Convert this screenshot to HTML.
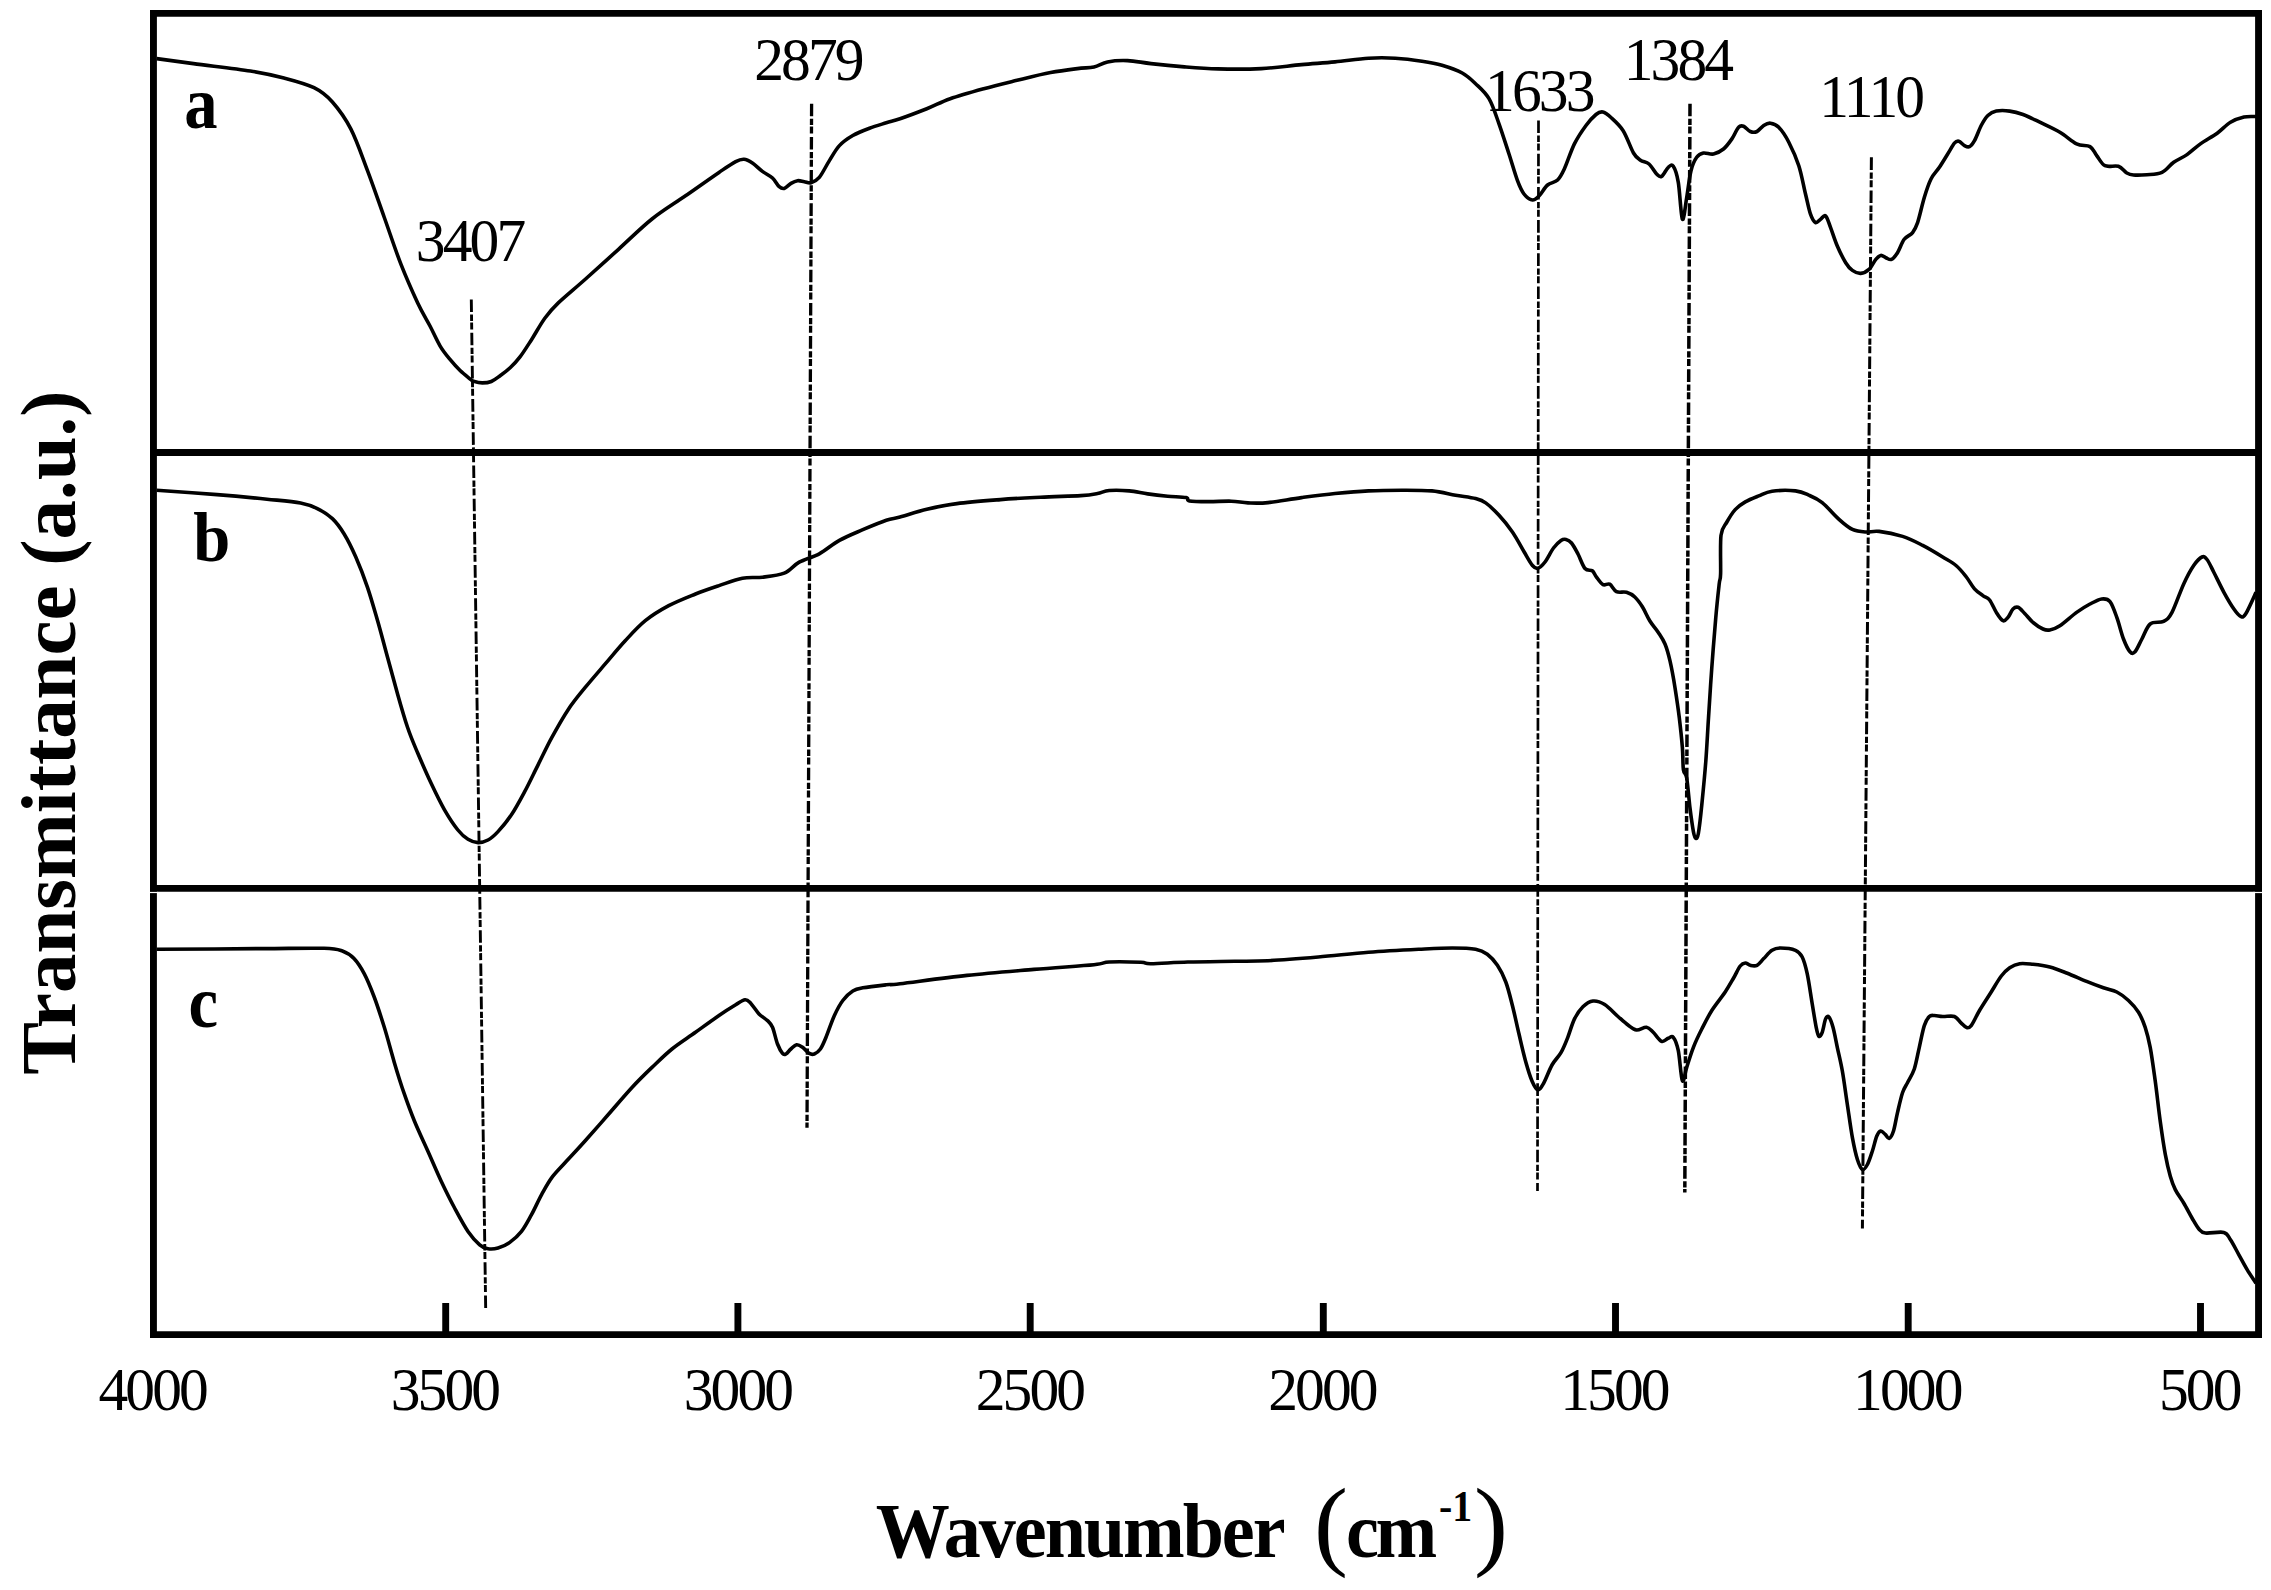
<!DOCTYPE html>
<html lang="en"><head><meta charset="utf-8"><title>FTIR spectra</title>
<style>html,body{margin:0;padding:0;background:#fff;}body{width:2271px;height:1590px;overflow:hidden;}svg{display:block;}text{font-family:"Liberation Serif",serif;fill:#000;}</style></head><body>
<svg width="2271" height="1590" viewBox="0 0 2271 1590">
<rect width="2271" height="1590" fill="#fff"/>
<g stroke="#000" fill="none" stroke-linecap="butt">
<line x1="153.45" y1="10.03" x2="153.45" y2="1338.0" stroke-width="6.9"/>
<line x1="2258.55" y1="10.03" x2="2258.55" y2="1338.0" stroke-width="6.9"/>
<line x1="150.0" y1="13.43" x2="2262.0" y2="13.43" stroke-width="6.8"/>
<line x1="150.0" y1="452.5" x2="2262.0" y2="452.5" stroke-width="6.9"/>
<line x1="150.0" y1="888.45" x2="2262.0" y2="888.45" stroke-width="6.7"/>
<line x1="150.0" y1="1334.6" x2="2262.0" y2="1334.6" stroke-width="6.8"/>
<line x1="445.7" y1="1303" x2="445.7" y2="1334.6" stroke-width="6.9"/>
<line x1="737.9" y1="1303" x2="737.9" y2="1334.6" stroke-width="6.9"/>
<line x1="1030.2" y1="1303" x2="1030.2" y2="1334.6" stroke-width="6.9"/>
<line x1="1323.3" y1="1303" x2="1323.3" y2="1334.6" stroke-width="6.9"/>
<line x1="1615.5" y1="1303" x2="1615.5" y2="1334.6" stroke-width="6.9"/>
<line x1="1908.2" y1="1303" x2="1908.2" y2="1334.6" stroke-width="6.9"/>
<line x1="2200.5" y1="1303" x2="2200.5" y2="1334.6" stroke-width="6.9"/>
</g>
<rect x="148" y="891.9" width="10" height="1.2" fill="#fff"/><rect x="2253" y="891.9" width="10" height="1.2" fill="#fff"/>
<g stroke="#000" fill="none" stroke-width="3.6" stroke-linejoin="round" stroke-linecap="butt">
<path d="M156.7 58.6C162.8 59.4 177.9 61.5 193.5 63.6C209.1 65.7 235.3 68.6 250.4 71.0C265.5 73.4 273.3 75.2 283.9 78.0C294.5 80.8 305.9 83.7 314.0 87.7C322.1 91.7 326.3 95.1 332.4 102.0C338.5 108.9 344.9 117.5 350.8 128.9C356.7 140.3 361.9 155.9 367.5 170.7C373.1 185.5 378.7 201.9 384.3 217.5C389.9 233.1 395.4 250.1 401.0 264.4C406.6 278.6 412.9 292.7 417.7 303.0C422.5 313.3 426.3 318.9 430.0 326.0C433.7 333.1 436.7 340.2 440.0 345.8C443.3 351.4 446.6 355.3 450.0 359.4C453.4 363.5 456.7 367.2 460.1 370.5C463.5 373.8 468.0 377.2 470.2 379.0C472.4 380.8 471.5 380.7 473.5 381.3C475.5 381.9 479.3 382.9 482.3 382.9C485.3 382.9 488.3 382.7 491.3 381.5C494.3 380.3 497.2 377.8 500.4 375.5C503.6 373.2 507.1 370.6 510.4 367.5C513.7 364.4 516.5 361.5 520.0 356.9C523.5 352.3 527.3 346.2 531.5 339.7C535.7 333.2 540.5 324.1 545.0 318.0C549.5 311.9 551.6 309.3 558.3 302.9C565.0 296.5 575.0 288.4 585.0 279.5C595.0 270.6 607.3 259.4 618.5 249.3C629.7 239.2 640.8 227.9 652.0 219.0C663.2 210.1 674.3 203.6 685.5 195.8C696.7 188.0 710.6 178.1 719.0 172.4C727.4 166.7 731.5 163.8 735.7 161.6C739.9 159.4 741.2 159.1 744.0 159.3C746.8 159.5 749.3 161.0 752.4 163.0C755.5 165.0 759.0 168.9 762.4 171.4C765.8 173.9 769.7 175.4 772.5 178.0C775.3 180.6 777.2 185.0 779.2 186.7C781.2 188.4 782.2 188.9 784.2 188.4C786.2 187.9 788.8 184.7 791.0 183.4C793.2 182.1 795.4 181.0 797.6 180.7C799.8 180.4 802.1 181.4 804.3 181.7C806.5 182.0 808.5 183.4 811.0 182.7C813.5 182.0 816.2 181.1 819.3 177.4C822.4 173.7 826.0 165.9 829.4 160.6C832.8 155.3 835.5 149.8 839.4 145.6C843.3 141.4 847.8 138.4 852.8 135.5C857.8 132.6 863.9 130.3 869.5 128.2C875.1 126.1 881.2 124.4 886.3 122.8C891.4 121.2 893.2 121.1 900.0 118.8C906.8 116.5 918.4 112.1 926.8 108.8C935.2 105.5 940.7 102.0 950.2 98.7C959.7 95.4 972.6 91.8 983.7 88.7C994.8 85.6 1005.9 83.0 1017.0 80.3C1028.2 77.6 1040.5 74.5 1050.6 72.6C1060.7 70.6 1070.2 69.5 1077.4 68.6C1084.6 67.6 1089.0 68.0 1094.0 66.9C1099.0 65.8 1101.9 63.0 1107.5 61.9C1113.1 60.8 1120.3 60.3 1127.6 60.6C1134.8 60.9 1141.5 62.5 1151.0 63.6C1160.5 64.7 1173.3 66.0 1184.5 66.9C1195.7 67.8 1205.2 68.6 1218.0 68.9C1230.8 69.2 1247.5 69.3 1261.4 68.6C1275.3 67.9 1289.3 65.7 1301.6 64.6C1313.9 63.5 1323.8 63.0 1335.0 61.9C1346.2 60.8 1358.5 58.8 1368.5 58.2C1378.5 57.6 1386.4 57.7 1395.3 58.2C1404.2 58.7 1414.2 60.0 1422.0 61.2C1429.8 62.4 1435.3 63.3 1442.0 65.3C1448.7 67.3 1456.6 69.9 1462.2 73.0C1467.8 76.1 1471.1 79.4 1475.6 83.7C1480.1 88.0 1485.1 92.0 1489.0 98.7C1492.9 105.4 1495.7 114.6 1499.0 123.8C1502.3 133.0 1505.9 144.5 1509.0 154.0C1512.1 163.5 1515.0 174.0 1517.5 180.7C1520.0 187.4 1521.5 190.8 1524.0 194.0C1526.5 197.2 1530.0 199.7 1532.5 200.0C1535.0 200.3 1536.7 198.3 1539.2 195.8C1541.7 193.3 1544.5 187.6 1547.6 185.0C1550.7 182.4 1554.8 182.7 1557.6 180.0C1560.4 177.3 1561.5 175.0 1564.3 169.0C1567.1 163.0 1570.8 151.2 1574.4 143.9C1578.0 136.7 1582.4 130.4 1586.0 125.5C1589.6 120.6 1593.2 116.8 1596.0 114.5C1598.8 112.2 1600.3 111.5 1602.8 112.0C1605.3 112.5 1607.6 114.4 1611.0 117.5C1614.4 120.6 1619.2 124.6 1623.0 130.5C1626.8 136.4 1630.6 148.0 1633.5 153.0C1636.4 158.0 1637.9 158.5 1640.5 160.3C1643.1 162.1 1646.3 161.7 1649.0 164.0C1651.7 166.3 1654.5 171.9 1656.6 174.0C1658.7 176.1 1659.6 177.5 1661.6 176.4C1663.5 175.3 1666.3 169.0 1668.3 167.3C1670.2 165.6 1671.6 163.8 1673.3 166.3C1675.0 168.8 1676.8 173.6 1678.3 182.4C1679.8 191.2 1681.0 216.7 1682.4 219.2C1683.8 221.7 1685.3 205.6 1686.7 197.5C1688.1 189.4 1689.3 177.4 1691.0 170.7C1692.7 164.0 1694.6 160.2 1696.7 157.3C1698.8 154.4 1700.6 153.6 1703.4 153.0C1706.2 152.4 1710.2 154.7 1713.5 154.0C1716.8 153.3 1720.4 151.5 1723.5 149.0C1726.6 146.5 1729.4 142.5 1731.9 138.9C1734.4 135.3 1736.6 129.3 1738.6 127.2C1740.5 125.1 1741.6 125.5 1743.6 126.2C1745.5 126.9 1748.1 130.6 1750.3 131.5C1752.5 132.4 1754.8 132.5 1757.0 131.5C1759.2 130.5 1761.5 126.9 1763.7 125.5C1765.9 124.1 1767.9 122.9 1770.4 123.2C1772.9 123.5 1775.6 124.0 1778.7 127.2C1781.8 130.4 1785.5 135.8 1788.8 142.2C1792.1 148.6 1796.0 157.1 1798.8 165.7C1801.6 174.3 1803.5 185.9 1805.5 194.0C1807.5 202.1 1808.8 209.4 1810.5 214.2C1812.2 219.0 1813.8 221.8 1815.5 222.6C1817.2 223.4 1818.9 220.3 1820.6 219.2C1822.3 218.1 1823.9 214.5 1825.6 215.9C1827.3 217.3 1828.6 222.6 1830.6 227.6C1832.5 232.6 1834.8 240.2 1837.3 246.0C1839.8 251.8 1843.2 258.6 1845.7 262.7C1848.2 266.8 1849.9 268.6 1852.4 270.4C1854.9 272.2 1857.9 273.6 1860.7 273.4C1863.5 273.2 1866.5 271.7 1869.0 269.4C1871.5 267.1 1873.8 261.7 1875.8 259.4C1877.8 257.1 1879.1 255.7 1880.8 255.4C1882.5 255.1 1884.0 257.0 1885.8 257.7C1887.6 258.4 1889.5 260.2 1891.5 259.4C1893.5 258.6 1895.4 256.0 1897.5 252.7C1899.6 249.3 1901.7 242.7 1904.2 239.3C1906.7 236.0 1910.4 235.4 1912.6 232.6C1914.8 229.8 1915.6 228.4 1917.6 222.6C1919.5 216.8 1922.1 204.8 1924.3 197.5C1926.5 190.2 1928.5 184.0 1931.0 179.0C1933.5 174.0 1936.6 171.5 1939.4 167.3C1942.2 163.1 1945.2 158.0 1947.7 154.0C1950.2 150.0 1952.6 145.3 1954.4 143.2C1956.2 141.1 1957.1 140.8 1958.8 141.2C1960.5 141.6 1962.7 144.7 1964.5 145.6C1966.3 146.5 1967.8 147.4 1969.5 146.6C1971.2 145.8 1972.5 144.1 1974.5 140.6C1976.5 137.1 1979.0 129.7 1981.2 125.5C1983.4 121.3 1985.4 117.9 1987.9 115.5C1990.4 113.1 1992.7 111.8 1996.3 111.1C1999.9 110.4 2005.2 110.5 2009.7 111.1C2014.2 111.7 2018.0 112.7 2023.0 114.5C2028.0 116.3 2033.6 119.2 2039.8 122.2C2046.0 125.2 2053.8 128.6 2059.9 132.2C2066.0 135.8 2071.6 141.5 2076.6 143.9C2081.6 146.3 2086.7 144.7 2090.0 146.6C2093.3 148.5 2094.2 152.4 2096.7 155.6C2099.2 158.8 2101.4 163.9 2105.0 165.7C2108.6 167.5 2114.8 165.1 2118.4 166.3C2122.0 167.5 2124.3 171.6 2126.8 173.0C2129.3 174.4 2130.2 174.7 2133.5 175.0C2136.8 175.3 2142.2 175.1 2146.9 174.7C2151.7 174.3 2157.5 174.5 2162.0 172.4C2166.5 170.3 2169.5 165.3 2173.7 162.3C2177.9 159.3 2182.6 157.7 2187.0 154.6C2191.4 151.5 2195.4 147.5 2200.4 143.9C2205.4 140.3 2212.2 136.8 2217.2 133.2C2222.2 129.6 2226.0 124.9 2230.5 122.2C2235.0 119.5 2239.8 118.0 2244.0 117.0C2248.2 116.0 2254.0 116.6 2256.0 116.5"/>
<path d="M156.7 490.2C166.8 490.9 198.6 493.1 217.0 494.6C235.4 496.1 253.1 497.8 267.0 499.2C280.9 500.6 292.2 501.4 300.6 503.0C309.0 504.6 312.0 506.0 317.3 508.6C322.6 511.2 327.9 514.4 332.4 518.6C336.8 522.8 340.1 527.3 344.0 533.7C347.9 540.1 351.9 548.1 355.8 557.0C359.7 565.9 363.9 576.7 367.5 587.3C371.1 597.9 374.2 609.0 377.6 620.7C381.0 632.4 384.2 645.2 387.6 657.5C391.0 669.8 394.4 682.7 397.7 694.4C401.0 706.1 404.4 718.0 407.7 727.8C411.0 737.6 413.8 743.8 417.7 753.0C421.6 762.2 426.5 773.5 431.0 783.0C435.5 792.5 440.0 802.0 444.5 809.8C449.0 817.6 454.0 825.1 457.9 830.0C461.8 834.9 464.6 837.2 468.0 839.3C471.4 841.4 474.7 842.5 478.0 842.6C481.3 842.7 484.7 841.8 488.0 840.0C491.3 838.2 494.1 835.8 498.0 831.6C501.9 827.4 506.9 821.5 511.4 814.8C515.9 808.1 520.3 799.8 524.8 791.4C529.3 783.0 533.7 773.5 538.2 764.6C542.7 755.7 546.6 747.1 551.6 737.9C556.6 728.7 562.7 717.8 568.3 709.4C573.9 701.0 578.9 695.2 585.0 687.7C591.1 680.2 598.3 672.0 605.0 664.2C611.7 656.4 618.5 648.0 625.2 640.8C631.9 633.5 638.0 626.6 645.3 620.7C652.5 614.9 660.3 610.2 668.7 605.7C677.1 601.2 687.1 597.4 695.5 594.0C703.9 590.6 711.2 588.2 719.0 585.6C726.8 583.0 735.2 579.6 742.4 578.2C749.6 576.8 755.4 578.0 762.4 577.2C769.4 576.4 778.1 575.7 784.2 573.2C790.3 570.7 793.4 565.4 799.2 562.2C805.1 559.0 812.6 557.4 819.3 553.8C826.0 550.2 832.1 544.4 839.4 540.4C846.6 536.4 855.0 533.1 862.8 529.7C870.6 526.4 880.1 522.4 886.3 520.3C892.5 518.2 893.2 518.8 900.0 517.0C906.8 515.2 917.3 511.5 926.8 509.3C936.3 507.1 944.6 505.2 956.9 503.6C969.2 502.0 986.5 500.7 1000.4 499.6C1014.3 498.5 1027.2 497.9 1040.6 497.2C1054.0 496.5 1071.2 496.2 1080.7 495.6C1090.2 495.0 1092.8 494.4 1097.5 493.5C1102.2 492.6 1103.9 490.9 1109.2 490.5C1114.5 490.1 1122.8 490.3 1129.2 490.9C1135.6 491.5 1141.3 493.0 1147.7 493.9C1154.1 494.8 1161.3 495.6 1167.7 496.2C1174.1 496.8 1182.4 496.8 1186.0 497.6C1189.6 498.4 1185.8 500.2 1189.5 500.9C1193.2 501.6 1200.9 501.6 1207.9 501.6C1214.9 501.7 1224.6 501.0 1231.3 501.2C1238.0 501.4 1241.9 502.7 1248.0 502.9C1254.1 503.1 1259.1 503.5 1268.0 502.6C1276.9 501.7 1290.4 499.1 1301.6 497.6C1312.8 496.1 1323.8 494.6 1335.0 493.5C1346.2 492.4 1357.3 491.4 1368.5 490.9C1379.7 490.3 1391.4 490.2 1402.0 490.2C1412.6 490.2 1423.1 490.1 1432.0 490.9C1440.9 491.7 1448.3 493.9 1455.6 495.2C1462.9 496.5 1470.6 497.3 1475.6 498.6C1480.6 499.9 1481.8 500.1 1485.7 502.9C1489.6 505.7 1494.5 510.4 1499.0 515.3C1503.5 520.1 1508.2 525.9 1512.4 532.0C1516.6 538.1 1520.9 546.4 1524.2 552.0C1527.5 557.6 1530.2 562.8 1532.5 565.5C1534.8 568.2 1535.9 568.8 1538.0 568.2C1540.1 567.6 1542.4 565.4 1545.0 562.0C1547.6 558.6 1550.8 551.6 1553.5 548.0C1556.2 544.4 1558.9 541.8 1561.0 540.4C1563.1 539.0 1564.2 539.0 1566.0 539.4C1567.8 539.8 1569.5 540.6 1571.5 543.0C1573.5 545.4 1575.8 549.8 1578.0 554.0C1580.2 558.2 1582.6 565.7 1585.0 568.5C1587.4 571.3 1590.4 569.4 1592.3 570.8C1594.2 572.2 1594.5 574.5 1596.3 576.8C1598.1 579.1 1600.8 583.4 1603.0 584.6C1605.2 585.8 1607.5 583.0 1609.7 584.2C1611.9 585.4 1613.6 590.2 1616.4 591.6C1619.2 593.0 1623.4 591.4 1626.5 592.3C1629.6 593.2 1632.1 594.5 1634.8 597.0C1637.5 599.5 1640.0 603.0 1642.5 607.0C1645.0 611.0 1647.3 616.8 1649.9 621.0C1652.5 625.2 1655.8 628.6 1658.3 632.4C1660.8 636.2 1663.0 639.2 1665.0 644.0C1667.0 648.8 1668.3 653.6 1670.0 660.9C1671.7 668.2 1673.5 678.2 1675.0 687.7C1676.5 697.2 1678.1 707.8 1679.3 717.8C1680.5 727.8 1681.7 739.2 1682.4 747.9C1683.1 756.5 1682.7 764.7 1683.4 769.7C1684.1 774.7 1685.6 771.6 1686.7 778.0C1687.8 784.4 1688.9 799.1 1690.0 808.0C1691.1 816.9 1692.5 826.6 1693.4 831.6C1694.4 836.6 1694.9 838.0 1695.7 838.3C1696.5 838.6 1697.4 838.8 1698.4 833.2C1699.4 827.6 1700.6 816.8 1701.8 804.8C1703.0 792.8 1704.7 775.8 1705.8 761.3C1706.9 746.8 1707.5 733.4 1708.5 717.8C1709.5 702.2 1710.6 684.3 1711.8 667.6C1713.0 650.9 1714.6 631.4 1715.8 617.4C1717.0 603.4 1718.4 591.1 1719.2 583.9C1720.0 576.6 1720.3 582.0 1720.6 573.9C1720.9 565.8 1720.0 544.0 1721.0 535.4C1722.0 526.8 1724.5 526.3 1726.9 522.0C1729.3 517.7 1732.1 513.0 1735.2 509.6C1738.3 506.2 1741.4 504.2 1745.3 501.9C1749.2 499.6 1754.2 497.7 1758.7 495.9C1763.2 494.1 1765.9 492.0 1772.0 491.2C1778.1 490.4 1789.3 490.2 1795.5 490.9C1801.7 491.6 1804.5 493.2 1808.9 495.2C1813.4 497.1 1817.2 498.6 1822.2 502.6C1827.2 506.6 1834.0 514.8 1839.0 519.3C1844.0 523.8 1847.9 527.3 1852.4 529.4C1856.9 531.5 1861.3 531.7 1865.8 532.0C1870.2 532.3 1873.0 530.7 1879.1 531.4C1885.2 532.1 1895.3 534.1 1902.6 536.4C1909.9 538.7 1916.0 542.0 1922.7 545.4C1929.4 548.8 1937.2 553.6 1942.7 557.0C1948.2 560.4 1952.1 562.2 1956.0 565.5C1959.9 568.8 1962.9 572.6 1966.0 576.5C1969.1 580.4 1971.7 585.7 1974.5 588.9C1977.3 592.1 1980.4 593.8 1982.9 595.6C1985.4 597.5 1987.4 597.2 1989.6 600.0C1991.8 602.8 1994.1 608.9 1996.3 612.4C1998.5 615.9 2001.0 619.9 2003.0 620.7C2005.0 621.5 2006.3 619.4 2008.0 617.4C2009.7 615.4 2011.3 610.7 2013.0 609.0C2014.7 607.3 2016.0 606.6 2018.0 607.3C2020.0 608.0 2022.2 610.9 2024.7 613.4C2027.2 615.9 2030.0 619.8 2033.0 622.4C2036.0 625.0 2040.2 627.7 2043.0 629.0C2045.8 630.3 2047.0 630.5 2049.8 630.0C2052.6 629.5 2055.4 628.6 2059.9 625.7C2064.4 622.8 2071.6 616.0 2076.6 612.4C2081.6 608.8 2085.8 606.2 2090.0 604.0C2094.2 601.8 2098.4 599.4 2101.7 599.0C2105.0 598.6 2107.5 598.5 2110.0 601.6C2112.5 604.7 2114.6 611.2 2116.8 617.4C2119.1 623.6 2121.3 633.3 2123.5 639.0C2125.7 644.7 2128.1 649.7 2130.0 651.8C2131.9 653.9 2133.0 653.9 2135.0 651.8C2137.0 649.7 2139.4 643.6 2141.9 639.0C2144.4 634.4 2146.6 626.9 2150.2 624.0C2153.8 621.1 2160.0 623.3 2163.6 621.4C2167.2 619.5 2168.7 618.6 2172.0 612.4C2175.3 606.1 2180.1 591.7 2183.7 583.9C2187.3 576.1 2190.6 570.0 2193.7 565.5C2196.8 561.0 2199.8 558.0 2202.0 557.0C2204.2 556.0 2205.0 557.0 2207.0 559.5C2209.0 562.0 2211.0 566.7 2213.8 572.2C2216.6 577.7 2220.6 586.2 2223.9 592.3C2227.2 598.4 2231.1 605.0 2233.9 609.0C2236.7 613.0 2238.7 615.6 2240.6 616.4C2242.5 617.2 2243.0 618.0 2245.6 614.0C2248.2 610.0 2254.3 595.9 2256.0 592.3"/>
<path d="M156.7 949.3C174.5 949.2 235.9 948.8 263.8 948.6C291.7 948.4 310.9 947.9 324.0 948.3C337.1 948.7 337.4 949.3 342.4 951.0C347.4 952.7 350.4 954.8 354.0 958.6C357.6 962.4 360.8 967.3 364.2 973.7C367.6 980.1 370.8 988.1 374.2 997.0C377.6 1005.9 380.9 1016.4 384.3 1027.3C387.7 1038.2 391.0 1051.2 394.3 1062.4C397.6 1073.6 401.0 1084.4 404.4 1094.2C407.8 1104.0 410.5 1111.5 414.4 1121.0C418.3 1130.5 423.3 1141.0 427.8 1151.0C432.3 1161.0 436.7 1171.7 441.2 1181.2C445.7 1190.7 450.1 1199.6 454.6 1208.0C459.1 1216.4 463.8 1225.3 468.0 1231.4C472.2 1237.5 476.4 1241.9 479.7 1244.8C483.0 1247.7 484.9 1248.3 488.0 1248.8C491.1 1249.3 494.4 1249.1 498.0 1248.0C501.6 1246.9 505.9 1245.2 509.8 1242.4C513.7 1239.6 517.9 1236.0 521.5 1231.4C525.1 1226.8 528.1 1220.8 531.5 1214.7C534.9 1208.6 538.2 1200.7 541.6 1194.6C545.0 1188.5 547.7 1183.2 551.6 1177.9C555.5 1172.6 559.4 1169.0 565.0 1162.8C570.6 1156.6 577.8 1149.1 585.0 1141.0C592.2 1132.9 600.7 1123.2 608.5 1114.3C616.3 1105.4 624.8 1095.3 632.0 1087.5C639.2 1079.7 645.3 1073.8 652.0 1067.4C658.7 1061.0 664.8 1054.8 672.0 1049.0C679.2 1043.2 687.7 1037.9 695.5 1032.3C703.3 1026.7 712.3 1020.1 719.0 1015.5C725.7 1010.9 731.4 1007.4 735.7 1004.8C740.0 1002.2 742.5 1000.1 745.0 999.8C747.5 999.5 748.4 1000.9 750.7 1003.2C753.0 1005.6 756.2 1011.0 759.0 1013.9C761.8 1016.8 765.2 1018.4 767.5 1020.6C769.8 1022.8 770.8 1023.4 772.5 1027.3C774.2 1031.2 775.8 1039.7 777.5 1044.0C779.2 1048.3 781.1 1051.7 782.5 1053.4C783.9 1055.1 784.5 1054.7 785.9 1054.0C787.3 1053.3 789.1 1050.5 790.9 1049.0C792.7 1047.5 794.6 1045.0 796.6 1044.7C798.6 1044.4 800.5 1045.8 802.6 1047.3C804.7 1048.8 807.3 1052.3 809.3 1053.4C811.2 1054.5 812.4 1054.7 814.3 1054.0C816.1 1053.3 818.4 1051.8 820.4 1049.0C822.4 1046.2 823.7 1042.9 826.0 1037.3C828.3 1031.7 831.6 1021.6 834.4 1015.5C837.2 1009.4 839.7 1004.6 842.8 1000.5C845.9 996.4 849.4 993.1 852.8 991.0C856.1 988.9 857.3 988.8 862.9 987.8C868.5 986.8 880.1 985.5 886.3 984.8C892.5 984.1 886.5 985.3 900.0 983.7C913.5 982.1 944.7 977.8 967.0 975.4C989.3 973.0 1012.7 971.2 1033.9 969.4C1055.1 967.6 1081.5 965.9 1094.0 964.7C1106.5 963.5 1101.4 962.4 1109.2 962.0C1117.0 961.6 1134.0 962.0 1141.0 962.3C1148.0 962.6 1143.2 963.8 1151.0 963.7C1158.8 963.7 1173.8 962.4 1187.8 962.0C1201.8 961.6 1221.3 961.5 1234.7 961.3C1248.1 961.1 1254.1 961.4 1268.0 960.7C1281.9 960.0 1301.5 958.4 1318.3 957.0C1335.0 955.6 1351.8 953.6 1368.5 952.3C1385.2 951.0 1404.8 950.0 1418.7 949.3C1432.7 948.6 1442.7 948.0 1452.2 948.0C1461.7 948.0 1469.8 948.2 1475.6 949.3C1481.4 950.3 1483.7 951.6 1487.3 954.3C1490.9 957.0 1494.3 960.7 1497.4 965.3C1500.5 969.9 1503.3 975.3 1505.8 982.0C1508.3 988.7 1510.2 996.8 1512.4 1005.5C1514.6 1014.2 1516.8 1024.6 1519.0 1034.0C1521.2 1043.4 1523.6 1054.2 1525.8 1062.0C1528.0 1069.8 1530.0 1076.4 1532.0 1081.0C1534.0 1085.6 1535.8 1089.4 1537.7 1089.8C1539.6 1090.2 1541.1 1087.6 1543.5 1083.5C1545.9 1079.4 1549.1 1070.2 1552.0 1065.0C1554.9 1059.8 1558.5 1057.0 1561.1 1052.4C1563.7 1047.8 1565.6 1042.9 1567.8 1037.3C1570.0 1031.7 1572.0 1024.0 1574.5 1018.9C1577.0 1013.8 1579.8 1009.8 1582.9 1006.8C1586.0 1003.8 1589.4 1001.4 1593.0 1001.0C1596.6 1000.6 1600.5 1001.9 1604.7 1004.5C1608.9 1007.1 1614.1 1013.1 1618.0 1016.5C1621.9 1019.9 1624.9 1022.8 1628.0 1025.0C1631.1 1027.2 1633.4 1029.6 1636.5 1030.0C1639.6 1030.4 1643.7 1026.9 1646.5 1027.3C1649.3 1027.7 1650.7 1030.0 1653.2 1032.3C1655.7 1034.6 1659.1 1040.3 1661.6 1041.3C1664.1 1042.3 1666.3 1039.0 1668.3 1038.3C1670.2 1037.6 1671.6 1035.2 1673.3 1037.3C1675.0 1039.4 1676.8 1043.5 1678.3 1050.7C1679.8 1058.0 1681.0 1078.0 1682.4 1080.8C1683.8 1083.6 1684.9 1073.0 1686.7 1067.4C1688.5 1061.8 1690.9 1053.7 1693.4 1047.3C1695.9 1040.9 1698.7 1035.1 1701.8 1029.0C1704.9 1022.9 1707.9 1016.7 1711.8 1010.5C1715.7 1004.3 1721.6 997.4 1725.2 992.0C1728.8 986.6 1731.1 982.3 1733.6 978.0C1736.1 973.7 1738.2 968.5 1740.2 966.0C1742.2 963.5 1743.6 963.1 1745.3 963.0C1747.0 962.9 1748.3 964.9 1750.3 965.3C1752.2 965.7 1754.8 966.4 1757.0 965.3C1759.2 964.2 1761.2 961.1 1763.7 958.6C1766.2 956.1 1769.2 952.1 1772.0 950.3C1774.8 948.5 1776.5 948.0 1780.4 948.0C1784.3 948.0 1791.9 948.8 1795.5 950.3C1799.1 951.8 1800.2 953.1 1802.2 957.0C1804.2 960.9 1805.5 965.9 1807.2 973.7C1808.9 981.5 1810.7 994.9 1812.2 1003.8C1813.7 1012.7 1815.1 1021.9 1816.2 1027.3C1817.3 1032.7 1817.9 1035.5 1818.9 1036.3C1819.9 1037.1 1821.1 1035.2 1822.2 1032.3C1823.3 1029.4 1824.5 1021.4 1825.6 1018.9C1826.7 1016.4 1827.8 1015.8 1829.0 1017.2C1830.2 1018.6 1831.6 1022.3 1833.0 1027.3C1834.4 1032.3 1835.8 1040.0 1837.3 1047.3C1838.8 1054.5 1840.6 1061.3 1842.3 1070.8C1844.0 1080.3 1845.6 1093.0 1847.3 1104.2C1849.0 1115.4 1850.7 1128.5 1852.4 1137.7C1854.1 1146.9 1855.7 1154.2 1857.4 1159.5C1859.1 1164.8 1860.7 1168.7 1862.4 1169.5C1864.1 1170.3 1865.7 1167.6 1867.4 1164.5C1869.1 1161.4 1870.8 1155.8 1872.4 1151.0C1874.0 1146.2 1875.4 1139.3 1876.8 1136.0C1878.2 1132.7 1879.4 1131.3 1880.8 1131.0C1882.2 1130.7 1883.8 1133.2 1885.2 1134.4C1886.6 1135.6 1887.8 1139.0 1889.2 1138.4C1890.6 1137.8 1892.1 1135.3 1893.5 1131.0C1894.9 1126.7 1896.0 1119.0 1897.5 1112.6C1899.0 1106.2 1900.9 1097.5 1902.6 1092.5C1904.3 1087.5 1905.6 1086.4 1907.6 1082.5C1909.5 1078.6 1912.3 1074.9 1914.3 1069.0C1916.2 1063.1 1917.6 1054.5 1919.3 1047.3C1921.0 1040.1 1922.6 1030.7 1924.3 1025.6C1926.0 1020.5 1927.6 1018.2 1929.3 1016.5C1931.0 1014.8 1932.2 1015.5 1934.4 1015.5C1936.6 1015.5 1939.4 1016.3 1942.7 1016.5C1946.0 1016.7 1951.4 1015.4 1954.4 1016.5C1957.5 1017.6 1959.0 1021.1 1961.0 1022.9C1963.0 1024.7 1964.5 1026.8 1966.2 1027.3C1967.9 1027.8 1969.0 1028.4 1971.2 1025.6C1973.4 1022.8 1976.2 1016.1 1979.5 1010.5C1982.8 1004.9 1987.6 997.8 1991.2 992.0C1994.8 986.2 1998.2 980.0 2001.3 976.0C2004.4 972.0 2006.6 969.8 2009.7 967.7C2012.8 965.7 2015.8 964.3 2019.7 963.7C2023.6 963.1 2028.0 963.8 2033.0 964.3C2038.0 964.8 2044.2 965.5 2049.8 967.0C2055.4 968.5 2060.5 970.6 2066.6 973.0C2072.7 975.4 2080.5 978.9 2086.6 981.4C2092.7 983.9 2098.4 986.0 2103.4 987.8C2108.4 989.6 2112.6 989.9 2116.8 992.0C2121.0 994.1 2124.9 997.1 2128.5 1000.5C2132.1 1003.9 2135.7 1007.7 2138.5 1012.2C2141.3 1016.7 2143.2 1021.4 2145.2 1027.3C2147.1 1033.1 2148.5 1038.4 2150.2 1047.3C2151.9 1056.2 2153.5 1068.5 2155.2 1080.8C2156.9 1093.1 2158.5 1108.7 2160.2 1121.0C2161.9 1133.3 2163.6 1145.2 2165.3 1154.4C2167.0 1163.6 2168.6 1170.3 2170.3 1176.2C2172.0 1182.1 2173.1 1185.1 2175.3 1189.6C2177.5 1194.1 2180.9 1198.3 2183.7 1203.0C2186.5 1207.7 2189.5 1213.7 2192.0 1218.0C2194.5 1222.3 2196.5 1226.2 2198.7 1228.7C2200.9 1231.2 2201.2 1232.4 2205.4 1233.0C2209.6 1233.6 2219.6 1231.3 2223.8 1232.4C2228.0 1233.5 2228.0 1236.1 2230.5 1239.8C2233.0 1243.5 2236.1 1249.8 2238.9 1254.8C2241.7 1259.8 2244.5 1265.2 2247.3 1269.9C2250.2 1274.7 2254.6 1281.1 2256.0 1283.3"/>
</g>
<g stroke="#000" fill="none">
<line x1="471.3" y1="299.5" x2="485.7" y2="1310" stroke-width="2.9" stroke-dasharray="12.6 2.5 6.3 1.5 7 3.3"/>
<line x1="811.6" y1="103.7" x2="807" y2="1127.7" stroke-width="3.3" stroke-dasharray="12.6 2.5 6.3 1.5 7 3.3"/>
<line x1="1538.5" y1="120.5" x2="1537.5" y2="1191" stroke-width="2.7" stroke-dasharray="12.6 2.5 6.3 1.5 7 3.3"/>
<line x1="1690" y1="103.7" x2="1684.8" y2="1192.5" stroke-width="3.5" stroke-dasharray="12.6 2.5 6.3 1.5 7 3.3"/>
<line x1="1871.4" y1="157.3" x2="1862.4" y2="1228.4" stroke-width="3.0" stroke-dasharray="12.6 2.5 6.3 1.5 7 3.3"/>
</g>
<text transform="translate(152.2 1410.4) scale(0.96 1)" font-size="62" text-anchor="middle" letter-spacing="-3.0">4000</text>
<text transform="translate(444.4 1410.4) scale(0.96 1)" font-size="62" text-anchor="middle" letter-spacing="-3.0">3500</text>
<text transform="translate(737.5 1410.4) scale(0.96 1)" font-size="62" text-anchor="middle" letter-spacing="-3.0">3000</text>
<text transform="translate(1029.5 1410.4) scale(0.96 1)" font-size="62" text-anchor="middle" letter-spacing="-3.0">2500</text>
<text transform="translate(1322.0 1410.4) scale(0.96 1)" font-size="62" text-anchor="middle" letter-spacing="-3.0">2000</text>
<text transform="translate(1614.0 1410.4) scale(0.96 1)" font-size="62" text-anchor="middle" letter-spacing="-3.0">1500</text>
<text transform="translate(1906.8 1410.4) scale(0.96 1)" font-size="62" text-anchor="middle" letter-spacing="-3.0">1000</text>
<text transform="translate(2199.2 1410.4) scale(0.96 1)" font-size="62" text-anchor="middle" letter-spacing="-3.0">500</text>
<text transform="translate(469.6 260.5) scale(0.96 1)" font-size="62" text-anchor="middle" letter-spacing="-3.0">3407</text>
<text transform="translate(808.0 80.3) scale(0.96 1)" font-size="62" text-anchor="middle" letter-spacing="-3.0">2879</text>
<text transform="translate(1538.8 111) scale(0.96 1)" font-size="62" text-anchor="middle" letter-spacing="-3.0">1633</text>
<text transform="translate(1677.5 79.5) scale(0.96 1)" font-size="62" text-anchor="middle" letter-spacing="-3.0">1384</text>
<text transform="translate(1870.7 117) scale(0.96 1)" font-size="62" text-anchor="middle" letter-spacing="-3.0">1110</text>
<text transform="translate(201 128) scale(0.9 1)" font-size="74" text-anchor="middle" font-weight="bold">a</text>
<text transform="translate(211.8 560.8) scale(0.9 0.945)" font-size="74" text-anchor="middle" font-weight="bold">b</text>
<text transform="translate(203.2 1026.5) scale(0.9 1)" font-size="74" text-anchor="middle" font-weight="bold">c</text>
<text transform="translate(875.8 1556.8) scale(0.95 1)" font-size="78" text-anchor="start" letter-spacing="-2.14" font-weight="bold">Wavenumber</text>
<text transform="translate(1314 1557.3) scale(1.03 1)" font-size="99" text-anchor="start">(</text>
<text transform="translate(1346 1556.8) scale(0.95 1)" font-size="78" text-anchor="start" letter-spacing="-3.6" font-weight="bold">cm</text>
<text transform="translate(1439 1521) scale(0.906 1)" font-size="44" text-anchor="start" font-weight="bold">-1</text>
<text transform="translate(1474 1557.3) scale(1.03 1)" font-size="99" text-anchor="start">)</text>
<text transform="translate(74.7 1074.8) rotate(-90) scale(1.0116 1)" font-weight="bold" font-size="78" text-anchor="start">Transmittance (a.u.)</text>
</svg></body></html>
